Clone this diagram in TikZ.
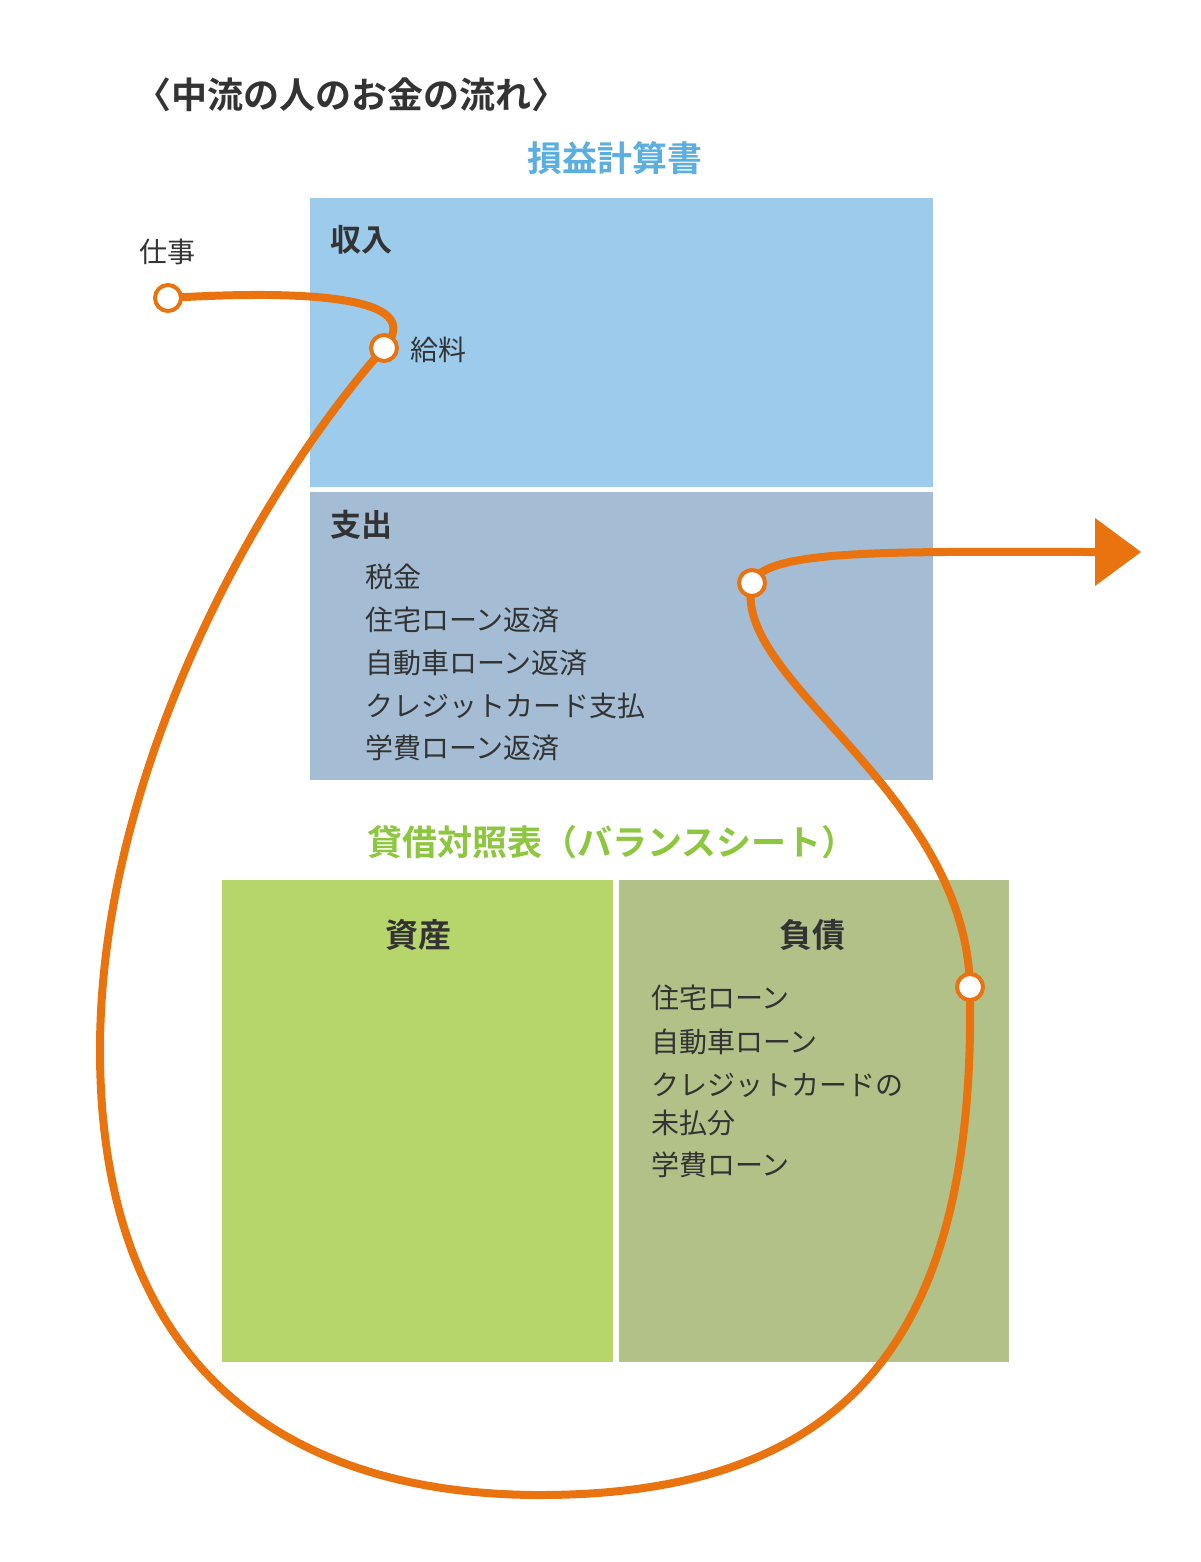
\documentclass[tikz,border=0pt]{standalone}
\usepackage{fontspec}
\setmainfont{Noto Sans CJK JP}[BoldFont={* Bold}]
\definecolor{orn}{HTML}{E8730F}
\definecolor{inc}{HTML}{9DCBEC}
\definecolor{exp}{HTML}{A4BDD4}
\definecolor{ast}{HTML}{B6D66B}
\definecolor{lia}{HTML}{B1C188}
\definecolor{ttlb}{HTML}{5BAEE0}
\definecolor{ttlg}{HTML}{8DC63F}
\definecolor{txt}{HTML}{333333}
\begin{document}
\begin{tikzpicture}[x=1pt,y=-1pt,
  lbl/.style={anchor=west,inner sep=0,font=\fontsize{28}{30}\selectfont,text=txt},
  hd/.style={anchor=west,inner sep=0,font=\bfseries\fontsize{31}{33}\selectfont,text=txt},
  dot/.style={circle,draw=orn,line width=4pt,fill=white,minimum size=26pt,inner sep=0}]
\useasboundingbox (0,0) rectangle (1200,1562);
\node[anchor=west,inner sep=0,font=\bfseries\fontsize{36}{38}\selectfont,text=txt] (title) at (135,95) {〈中流の人のお金の流れ〉};
\node[inner sep=0,font=\bfseries\fontsize{35}{37}\selectfont,text=ttlb] (pl) at (615,158) {損益計算書};
\fill[inc] (310,198) rectangle (933,487);
\fill[exp] (310,492) rectangle (933,780);
\node[hd] (inch) at (330,240) {収入};
\node[hd] (exph) at (330,525) {支出};
\node[lbl] (e1) at (365,577) {税金};
\node[lbl] (e2) at (365,620) {住宅ローン返済};
\node[lbl] (e3) at (365,663) {自動車ローン返済};
\node[lbl] (e4) at (365,706) {クレジットカード支払};
\node[lbl] (e5) at (365,748) {学費ローン返済};
\node[inner sep=0,font=\bfseries\fontsize{35}{37}\selectfont,text=ttlg] (bs) at (612,842) {貸借対照表（バランスシート）};
\fill[ast] (222,880) rectangle (613,1362);
\fill[lia] (619,880) rectangle (1009,1362);
\node[inner sep=0,font=\bfseries\fontsize{33}{35}\selectfont,text=txt] (ah) at (418,935) {資産};
\node[inner sep=0,font=\bfseries\fontsize{33}{35}\selectfont,text=txt] (lh) at (812,935) {負債};
\node[lbl] (l1) at (651,998) {住宅ローン};
\node[lbl] (l2) at (651,1042) {自動車ローン};
\node[lbl] (l3) at (651,1085) {クレジットカードの};
\node[lbl] (l4) at (651,1123) {未払分};
\node[lbl] (l5) at (651,1165) {学費ローン};
\node[lbl,anchor=center] (job) at (167,252) {仕事};
\node[lbl] (sal) at (410,350) {給料};
\coordinate (a) at (168,298);
\coordinate (b) at (384,348);
\coordinate (c) at (970,987);
\coordinate (d) at (752,583);
\coordinate (e) at (1095,552);
\draw[orn,line width=8pt] (a) .. controls (300,290) and (430,295) .. (b)
  .. controls (250,500) and (100,780) .. (100,1050)
  .. controls (100,1380) and (300,1495) .. (540,1495)
  .. controls (880,1495) and (975,1300) .. (c)
  .. controls (965,790) and (730,680) .. (d)
  .. controls (765,548) and (900,552) .. (e);
\fill[orn] (1095,518) -- (1141,552) -- (1095,586) -- cycle;
\node[dot] (n1) at (a) {};
\node[dot] (n2) at (b) {};
\node[dot] (n3) at (c) {};
\node[dot] (n4) at (d) {};
\end{tikzpicture}
\end{document}
